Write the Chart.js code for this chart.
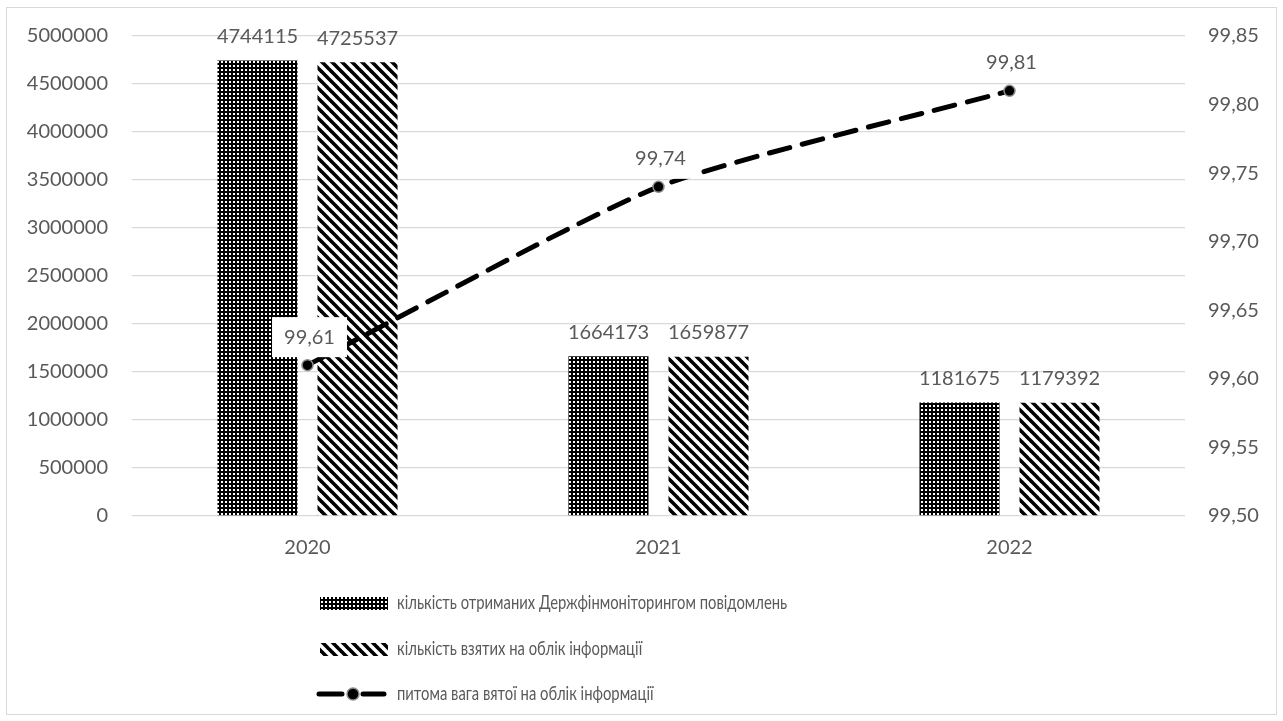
<!DOCTYPE html>
<html>
<head>
<meta charset="utf-8">
<script src="https://cdn.jsdelivr.net/npm/chart.js@4.4.1/dist/chart.umd.min.js"></script>
<style>
  html, body { margin: 0; padding: 0; background: #ffffff; }
  #wrap { width: 1283px; height: 721px; }
</style>
</head>
<body>
<div id="wrap"><canvas id="c" width="1283" height="721"></canvas></div>
<script>
// Years on the category axis
const years = ['2020', '2021', '2022'];
// Number of reports received by Derzhfinmonitoring
const received = [4744115, 1664173, 1181675];
// Number of items of information registered
const registered = [4725537, 1659877, 1179392];
// Share of registered information, %
const share = [99.61, 99.74, 99.81];

const seriesNames = [
  'кількість отриманих Держфінмоніторингом повідомлень',
  'кількість взятих на облік інформації',
  'питома вага вятої на облік інформації'
];

const FONT = 'Lato, "Open Sans", sans-serif';
const TEXT = '#595959';
const GRID = '#d9d9d9';

// Dense dot fill: black with small white squares
function dotPattern(ctx) {
  const t = document.createElement('canvas');
  t.width = 4; t.height = 4;
  const g = t.getContext('2d');
  g.fillStyle = '#000';
  g.fillRect(0, 0, 4, 4);
  g.fillStyle = '#fff';
  g.fillRect(1, 1, 2, 2);
  return ctx.createPattern(t, 'repeat');
}

// Wide downward diagonal stripes on white
function stripePattern(ctx) {
  const s = 10;
  const t = document.createElement('canvas');
  t.width = s; t.height = s;
  const g = t.getContext('2d');
  g.fillStyle = '#fff';
  g.fillRect(0, 0, s, s);
  g.strokeStyle = '#000';
  g.lineWidth = 3.6;
  for (const o of [-s, 0, s]) {
    g.beginPath();
    g.moveTo(o - 2, -2);
    g.lineTo(o + s + 2, s + 2);
    g.stroke();
  }
  return ctx.createPattern(t, 'repeat');
}

const canvas = document.getElementById('c');
const ctx0 = canvas.getContext('2d');
const dots = dotPattern(ctx0);
const stripes = stripePattern(ctx0);

const fmtShare = v => v.toFixed(2).replace('.', ',');

// White background and thin frame around the figure
const framePlugin = {
  id: 'frame',
  beforeDraw(chart) {
    const c = chart.ctx;
    c.save();
    c.fillStyle = '#fff';
    c.fillRect(0, 0, chart.width, chart.height);
    c.strokeStyle = GRID;
    c.lineWidth = 1;
    c.strokeRect(6.5, 7.5, chart.width - 13, chart.height - 14);
    c.restore();
  }
};

// Value labels over bars and line points
const valueLabels = {
  id: 'valueLabels',
  afterDatasetsDraw(chart) {
    const c = chart.ctx;
    c.save();
    c.font = '20px ' + FONT;
    c.textAlign = 'center';
    c.textBaseline = 'middle';
    [0, 1].forEach(di => {
      const meta = chart.getDatasetMeta(di);
      meta.data.forEach((el, i) => {
        c.fillStyle = TEXT;
        c.fillText(String(chart.data.datasets[di].data[i]), el.x, el.y - 24);
      });
    });
    const lm = chart.getDatasetMeta(2);
    lm.data.forEach((el, i) => {
      const txt = fmtShare(chart.data.datasets[2].data[i]);
      const x = el.x + 2, y = el.y - 28;
      const w = c.measureText(txt).width + 24;
      c.fillStyle = '#fff';
      c.fillRect(x - w / 2, y - 20, w, 40);
      c.fillStyle = TEXT;
      c.fillText(txt, x, y);
    });
    c.restore();
  }
};

// Vertical legend under the axis, text set in a condensed face
const stackedLegend = {
  id: 'stackedLegend',
  afterDraw(chart) {
    const c = chart.ctx;
    const rows = [603, 649, 694];
    const sx = 320, sw = 68, tx = 397;
    const condense = 0.78;
    c.save();
    chart.data.datasets.forEach((ds, i) => {
      const y = rows[i];
      if (ds.type === 'line') {
        c.strokeStyle = '#000';
        c.lineWidth = 5;
        c.lineCap = 'round';
        c.beginPath();
        c.moveTo(sx - 1, y); c.lineTo(sx + 22, y);
        c.moveTo(sx + 43, y); c.lineTo(sx + 64, y);
        c.stroke();
        c.beginPath();
        c.arc(sx + 33, y, 6, 0, Math.PI * 2);
        c.fillStyle = '#000';
        c.fill();
        c.lineWidth = 1.5;
        c.strokeStyle = '#8c8c8c';
        c.stroke();
      } else {
        c.fillStyle = ds.backgroundColor;
        c.fillRect(sx, y - 6, sw, 13);
      }
      c.save();
      c.translate(tx, y);
      c.scale(condense, 1);
      c.font = '19px ' + FONT;
      c.textBaseline = 'middle';
      c.textAlign = 'left';
      c.fillStyle = TEXT;
      c.fillText(ds.label, 0, 0);
      c.restore();
    });
    c.restore();
  }
};

new Chart(canvas, {
  data: {
    labels: years,
    datasets: [
      {
        type: 'bar',
        label: seriesNames[0],
        data: received,
        backgroundColor: dots,
        yAxisID: 'y',
        order: 2,
        barPercentage: 0.8,
        categoryPercentage: 0.57
      },
      {
        type: 'bar',
        label: seriesNames[1],
        data: registered,
        backgroundColor: stripes,
        yAxisID: 'y',
        order: 2,
        barPercentage: 0.8,
        categoryPercentage: 0.57
      },
      {
        type: 'line',
        label: seriesNames[2],
        data: share,
        yAxisID: 'y1',
        order: 1,
        borderColor: '#000',
        borderWidth: 5,
        borderDash: [21, 13],
        borderCapStyle: 'round',
        tension: 0.2,
        pointRadius: 5.5,
        pointBackgroundColor: '#000',
        pointBorderColor: '#8c8c8c',
        pointBorderWidth: 1.5,
        fill: false
      }
    ]
  },
  options: {
    responsive: false,
    devicePixelRatio: 1,
    animation: false,
    layout: { padding: { top: 36, left: 0, right: 0, bottom: 165 } },
    plugins: {
      legend: { display: false },
      tooltip: { enabled: false }
    },
    scales: {
      x: {
        grid: { display: false, drawTicks: false },
        border: { display: false },
        ticks: { color: TEXT, font: { family: FONT, size: 20 }, padding: 20 },
        afterFit(s) { s.height = 40; }
      },
      y: {
        position: 'left',
        min: 0,
        max: 5000000,
        grid: { color: GRID, lineWidth: 1.3, drawTicks: false },
        border: { display: false },
        ticks: {
          stepSize: 500000,
          color: TEXT,
          font: { family: FONT, size: 20 },
          padding: 24,
          callback: v => String(v)
        },
        afterFit(s) { s.width = 132; }
      },
      y1: {
        position: 'right',
        min: 99.5,
        max: 99.85,
        grid: { drawOnChartArea: false, drawTicks: false },
        border: { display: false },
        ticks: {
          stepSize: 0.05,
          color: TEXT,
          font: { family: FONT, size: 20 },
          padding: 23,
          callback: v => fmtShare(v)
        },
        afterFit(s) { s.width = 98; }
      }
    }
  },
  plugins: [framePlugin, valueLabels, stackedLegend]
});
</script>
</body>
</html>
